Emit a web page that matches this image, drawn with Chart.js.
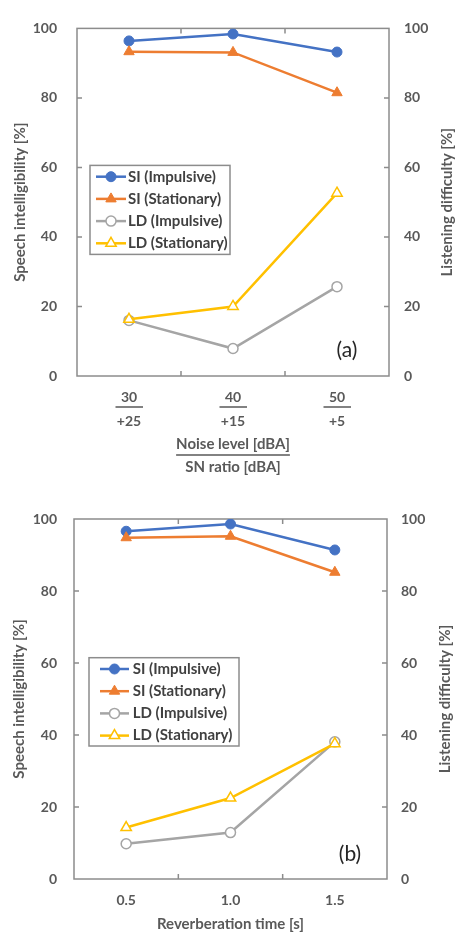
<!DOCTYPE html>
<html><head><meta charset="utf-8">
<script src="https://cdn.jsdelivr.net/npm/chart.js@4.4.0/dist/chart.umd.min.js"></script>
<style>
html,body{margin:0;padding:0;background:#fff;}
#wrap{position:relative;width:457px;height:933px;overflow:hidden;}
canvas{position:absolute;left:0;}
#ca{top:0;} #cb{top:480px;}
</style></head><body>
<div id="wrap"><canvas id="ca" width="457" height="480"></canvas><canvas id="cb" width="457" height="453"></canvas></div>
<script>
// ---------- data ----------
const noiseLevels = ['30', '40', '50'];
const snRatios = ['+25', '+15', '+5'];
const siImpulsiveA = [96.4, 98.4, 93.2];
const siStationaryA = [93.3, 93.1, 81.5];
const ldImpulsiveA = [16.0, 7.9, 25.7];
const ldStationaryA = [16.3, 20.0, 52.6];

const reverbTimes = ['0.5', '1.0', '1.5'];
const siImpulsiveB = [96.6, 98.6, 91.4];
const siStationaryB = [94.8, 95.2, 85.2];
const ldImpulsiveB = [9.8, 12.9, 38.1];
const ldStationaryB = [14.3, 22.5, 37.6];

const seriesLabels = ['SI (Impulsive)', 'SI (Stationary)', 'LD (Impulsive)', 'LD (Stationary)'];
const yTickValues = [0, 20, 40, 60, 80, 100];
const leftTitle = 'Speech intelligibility [%]';
const rightTitle = 'Listening difficulty [%]';
const xTitleA = ['Noise level [dBA]', 'SN ratio [dBA]'];
const xTitleB = 'Reverberation time [s]';
const panelLabels = ['(a)', '(b)'];

// ---------- styling ----------
const FONT = 'Lato';
const AX = '#595959';
const FRAME = '#8c8c8c';
const TXT = 15;

function makeDatasets(si1, si2, ld1, ld2) {
  return [
    {label: seriesLabels[0], data: si1, yAxisID: 'y', order: 3, borderColor: '#4472C4', backgroundColor: '#4472C4',
     borderWidth: 2.5, pointStyle: 'circle', pointRadius: 5, pointBackgroundColor: '#4472C4', pointBorderColor: '#4472C4', pointBorderWidth: 1},
    {label: seriesLabels[1], data: si2, yAxisID: 'y', order: 2, borderColor: '#ED7D31', backgroundColor: '#ED7D31',
     borderWidth: 2.5, pointStyle: 'triangle', pointRadius: 6, pointBackgroundColor: '#ED7D31', pointBorderColor: '#ED7D31', pointBorderWidth: 1},
    {label: seriesLabels[2], data: ld1, yAxisID: 'y2', order: 1, borderColor: '#A5A5A5', backgroundColor: '#fff',
     borderWidth: 2.5, pointStyle: 'circle', pointRadius: 5, pointBackgroundColor: '#fff', pointBorderColor: '#A5A5A5', pointBorderWidth: 1.5},
    {label: seriesLabels[3], data: ld2, yAxisID: 'y2', order: 0, borderColor: '#FFC000', backgroundColor: '#fff',
     borderWidth: 2.5, pointStyle: 'triangle', pointRadius: 6, pointBackgroundColor: '#fff', pointBorderColor: '#FFC000', pointBorderWidth: 1.5}
  ];
}

const framePlugin = {
  id: 'frame',
  beforeDatasetsDraw(chart) {
    const {ctx, chartArea: a} = chart;
    const xs = chart.scales.x, ys = chart.scales.y;
    ctx.save();
    ctx.strokeStyle = FRAME;
    ctx.lineWidth = 1.5;
    ctx.strokeRect(a.left, a.top, a.right - a.left, a.bottom - a.top);
    ctx.beginPath();
    yTickValues.slice(1, -1).forEach(v => {
      const y = ys.getPixelForValue(v);
      ctx.moveTo(a.left, y); ctx.lineTo(a.left + 5, y);
      ctx.moveTo(a.right, y); ctx.lineTo(a.right - 5, y);
    });
    const n = chart.data.labels.length;
    for (let i = 0; i < n - 1; i++) {
      const x = (xs.getPixelForValue(i) + xs.getPixelForValue(i + 1)) / 2;
      ctx.moveTo(x, a.bottom); ctx.lineTo(x, a.bottom - 5);
      ctx.moveTo(x, a.top); ctx.lineTo(x, a.top + 5);
    }
    ctx.stroke();
    ctx.restore();
  }
};

const decorPlugin = {
  id: 'decor',
  afterDraw(chart, args, o) {
    const {ctx, chartArea: a} = chart;
    ctx.save();
    // right axis title, reading bottom to top
    ctx.fillStyle = AX;
    ctx.font = `bold ${TXT}px ${FONT}`;
    ctx.textAlign = 'center'; ctx.textBaseline = 'middle';
    ctx.translate(a.right + o.rightTitleDx, (a.top + a.bottom) / 2);
    ctx.rotate(-Math.PI / 2);
    ctx.fillText(rightTitle, 0, 0);
    ctx.setTransform(1, 0, 0, 1, 0, 0);
    // panel label
    ctx.fillStyle = '#262626';
    ctx.font = `21px ${FONT}`;
    ctx.fillText(o.panel, a.right + o.panelDx, a.bottom + o.panelDy);
    // fraction lines
    if (o.fraction) {
      const xs = chart.scales.x;
      ctx.strokeStyle = AX; ctx.lineWidth = 1.5;
      ctx.beginPath();
      chart.data.labels.forEach((l, i) => {
        const x = xs.getPixelForValue(i);
        const y = a.bottom + o.fracDy;
        ctx.moveTo(x - 13.5, y); ctx.lineTo(x + 14, y);
      });
      ctx.font = `bold ${TXT}px ${FONT}`;
      const w = ctx.measureText(xTitleA[0]).width;
      const cx = (xs.left + xs.right) / 2;
      const ty = a.bottom + o.titleLineDy;
      ctx.moveTo(cx - w / 2, ty); ctx.lineTo(cx + w / 2, ty);
      ctx.stroke();
    }
    // legend
    const L = o.legend;
    const bx = a.left + L.dx, by = a.top + L.dy;
    ctx.fillStyle = '#fff';
    ctx.fillRect(bx, by, L.w, L.h);
    ctx.strokeStyle = FRAME; ctx.lineWidth = 1.5;
    ctx.strokeRect(bx, by, L.w, L.h);
    ctx.font = `bold ${TXT}px ${FONT}`;
    ctx.textAlign = 'left'; ctx.textBaseline = 'middle';
    chart.data.datasets.forEach((ds, i) => {
      const y = by + L.row0 + i * L.rowH;
      ctx.strokeStyle = ds.borderColor; ctx.lineWidth = ds.borderWidth;
      ctx.beginPath(); ctx.moveTo(bx + L.l0, y); ctx.lineTo(bx + L.l1, y); ctx.stroke();
      ctx.fillStyle = ds.pointBackgroundColor; ctx.strokeStyle = ds.pointBorderColor;
      ctx.lineWidth = ds.pointBorderWidth;
      Chart.helpers.drawPoint(ctx, {pointStyle: ds.pointStyle, radius: ds.pointRadius, borderWidth: ds.pointBorderWidth, rotation: 0},
        bx + (L.l0 + L.l1) / 2, y);
      ctx.fillStyle = '#404040';
      ctx.fillText(ds.label, bx + L.tx, y);
    });
    ctx.restore();
  }
};

function axisFont(size, lh) { return {family: FONT, weight: 'bold', size: size, lineHeight: lh}; }

function makeChart(el, labels, datasets, cfg) {
  return new Chart(document.getElementById(el), {
    type: 'line',
    data: {labels, datasets},
    plugins: [framePlugin, decorPlugin],
    options: {
      responsive: false, animation: false,
      layout: {padding: {top: cfg.top, left: 0, right: 0, bottom: 0}},
      plugins: {legend: {display: false}, tooltip: {enabled: false}, decor: cfg.decor},
      elements: {line: {tension: 0}},
      scales: {
        x: {type: 'category', offset: true,
            grid: {display: false, drawTicks: false}, border: {display: false},
            ticks: {padding: cfg.xPad, color: AX, font: axisFont(14, cfg.xLh), maxRotation: 0, autoSkip: false},
            title: {display: true, text: cfg.xTitle, color: AX, font: axisFont(TXT, cfg.xTitleLh), padding: {top: 0, bottom: cfg.xTitlePb}},
            afterFit: s => { s.height = cfg.xH; }},
        y: {position: 'left', min: 0, max: 100,
            afterBuildTicks: s => { s.ticks = yTickValues.map(v => ({value: v})); },
            grid: {display: false, drawTicks: false}, border: {display: false},
            ticks: {padding: cfg.yPad, color: AX, font: axisFont(14, 1.2)},
            title: {display: true, text: leftTitle, color: AX, font: axisFont(TXT, 1.2), padding: {top: cfg.yTitlePt, bottom: 0}},
            afterFit: s => { s.width = cfg.yW; }},
        y2: {position: 'right', min: 0, max: 100,
            afterBuildTicks: s => { s.ticks = yTickValues.map(v => ({value: v})); },
            grid: {display: false, drawTicks: false}, border: {display: false},
            ticks: {padding: cfg.y2Pad, color: AX, font: axisFont(14, 1.2)},
            afterFit: s => { s.width = cfg.y2W; }}
      }
    }
  });
}

makeChart('ca', noiseLevels.map((n, i) => [n, snRatios[i]]),
  makeDatasets(siImpulsiveA, siStationaryA, ldImpulsiveA, ldStationaryA),
  {top: 16, xPad: 9, xLh: 24 / 14, xTitle: xTitleA, xTitleLh: 23 / TXT, xTitlePb: 1.5, xH: 104,
   yPad: 20, yTitlePt: 11, yW: 77, y2Pad: 15, y2W: 68,
   decor: {rightTitleDx: 58, panel: panelLabels[0], panelDx: -42, panelDy: -26, fraction: true, fracDy: 31, titleLineDy: 79,
           legend: {dx: 13, dy: 137, w: 140, h: 89, row0: 11.3, rowH: 22.2, l0: 6, l1: 36, tx: 38}}});

makeChart('cb', reverbTimes,
  makeDatasets(siImpulsiveB, siStationaryB, ldImpulsiveB, ldStationaryB),
  {top: 39, xPad: 12.6, xLh: 1.2, xTitle: xTitleB, xTitleLh: 1.2, xTitlePb: 0, xH: 54,
   yPad: 17, yTitlePt: 10, yW: 74, y2Pad: 14, y2W: 70,
   decor: {rightTitleDx: 58, panel: panelLabels[1], panelDx: -37, panelDy: -25, fraction: false,
           legend: {dx: 15, dy: 138.7, w: 150, h: 88.3, row0: 11.3, rowH: 22.2, l0: 11, l1: 40, tx: 43.7}}});
</script>
</body></html>
